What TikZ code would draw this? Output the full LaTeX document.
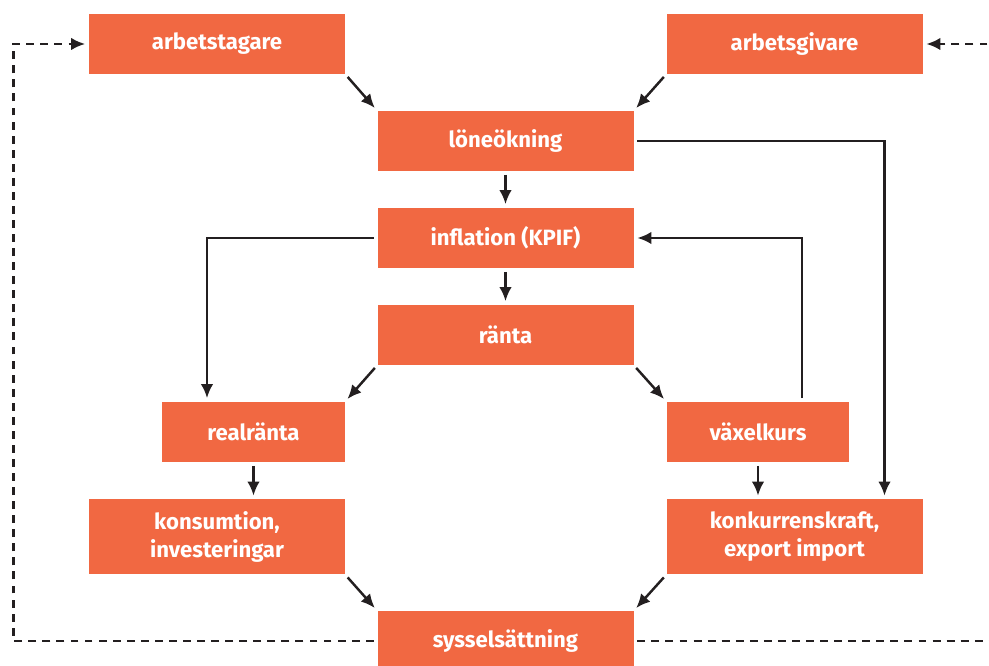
\documentclass[tikz,border=0pt]{standalone}
\usepackage{fontspec}
\setmainfont{Fira Sans}
\usetikzlibrary{arrows.meta}
\definecolor{boxorange}{RGB}{241,104,66}
\definecolor{linegray}{RGB}{35,31,32}

\begin{document}
\begin{tikzpicture}[
    box/.style={fill=boxorange, text=white, font=\bfseries\fontsize{12.6}{16}\selectfont,
        minimum width=5.12cm, minimum height=1.2cm, inner sep=0pt, align=center},
    smallbox/.style={box, minimum width=3.65cm},
    tallbox/.style={box, minimum height=1.5cm},
    arr/.style={draw=linegray, line width=1.4pt, -{Latex[length=2.8mm,width=2.5mm]},
        shorten >=0.07cm, shorten <=0.07cm},
    fb/.style={arr, dash pattern=on 4.5pt off 3.5pt}
    ]
                    \useasboundingbox (0,0) rectangle (19.78,13.32);
                    \clip (0,0) rectangle (19.78,13.32);

                    \node[box] (arbt) at (4.34,12.44) {arbetstagare};
                    \node[box] (arbg) at (15.89,12.44) {arbetsgivare};
                    \node[box] (lone) at (10.11,10.5) {löneökning};
                    \node[box] (infl) at (10.11,8.56) {inflation (KPIF)};
                    \node[box] (rant) at (10.11,6.62) {ränta};
                    \node[smallbox] (real) at (5.07,4.68) {realränta};
                    \node[smallbox] (vaxl) at (15.16,4.68) {växelkurs};
                    \node[tallbox] (kons) at (4.34,2.58) {konsumtion,\\investeringar};
                    \node[tallbox] (konk) at (15.89,2.58) {konkurrenskraft,\\export import};
                    \node[box] (syss) at (10.11,0.5) {sysselsättning};

                    \coordinate (lft) at (0.27,0);
                    \coordinate (rgt) at (20.4,0);

                    \draw[arr] (arbt.south east) -- (lone.north west);
                    \draw[arr] (arbg.south west) -- (lone.north east);
                    \draw[arr] (lone) -- (infl);
                    \draw[arr] (lone.east) -| ([xshift=1.8cm]konk.north);
                    \draw[arr] (infl) -- (rant);
                    \draw[arr] (infl.west) -| ([xshift=-0.93cm]real.north);
                    \draw[arr] (rant.south west) -- (real.north east);
                    \draw[arr] (rant.south east) -- (vaxl.north west);
                    \draw[arr] ([xshift=0.88cm]vaxl.north) |- (infl.east);
                    \draw[arr] (real) -- (real |- kons.north);
                    \draw[arr] (vaxl) -- (vaxl |- konk.north);
                    \draw[arr] (kons.south east) -- (syss.north west);
                    \draw[arr] (konk.south west) -- (syss.north east);

                    \draw[fb] (syss.west) -- (syss.west -| lft) |- (arbt.west);
                    \draw[fb] (syss.east) -- (syss.east -| rgt) |- (arbg.east);
                \end{tikzpicture}
\end{document}
